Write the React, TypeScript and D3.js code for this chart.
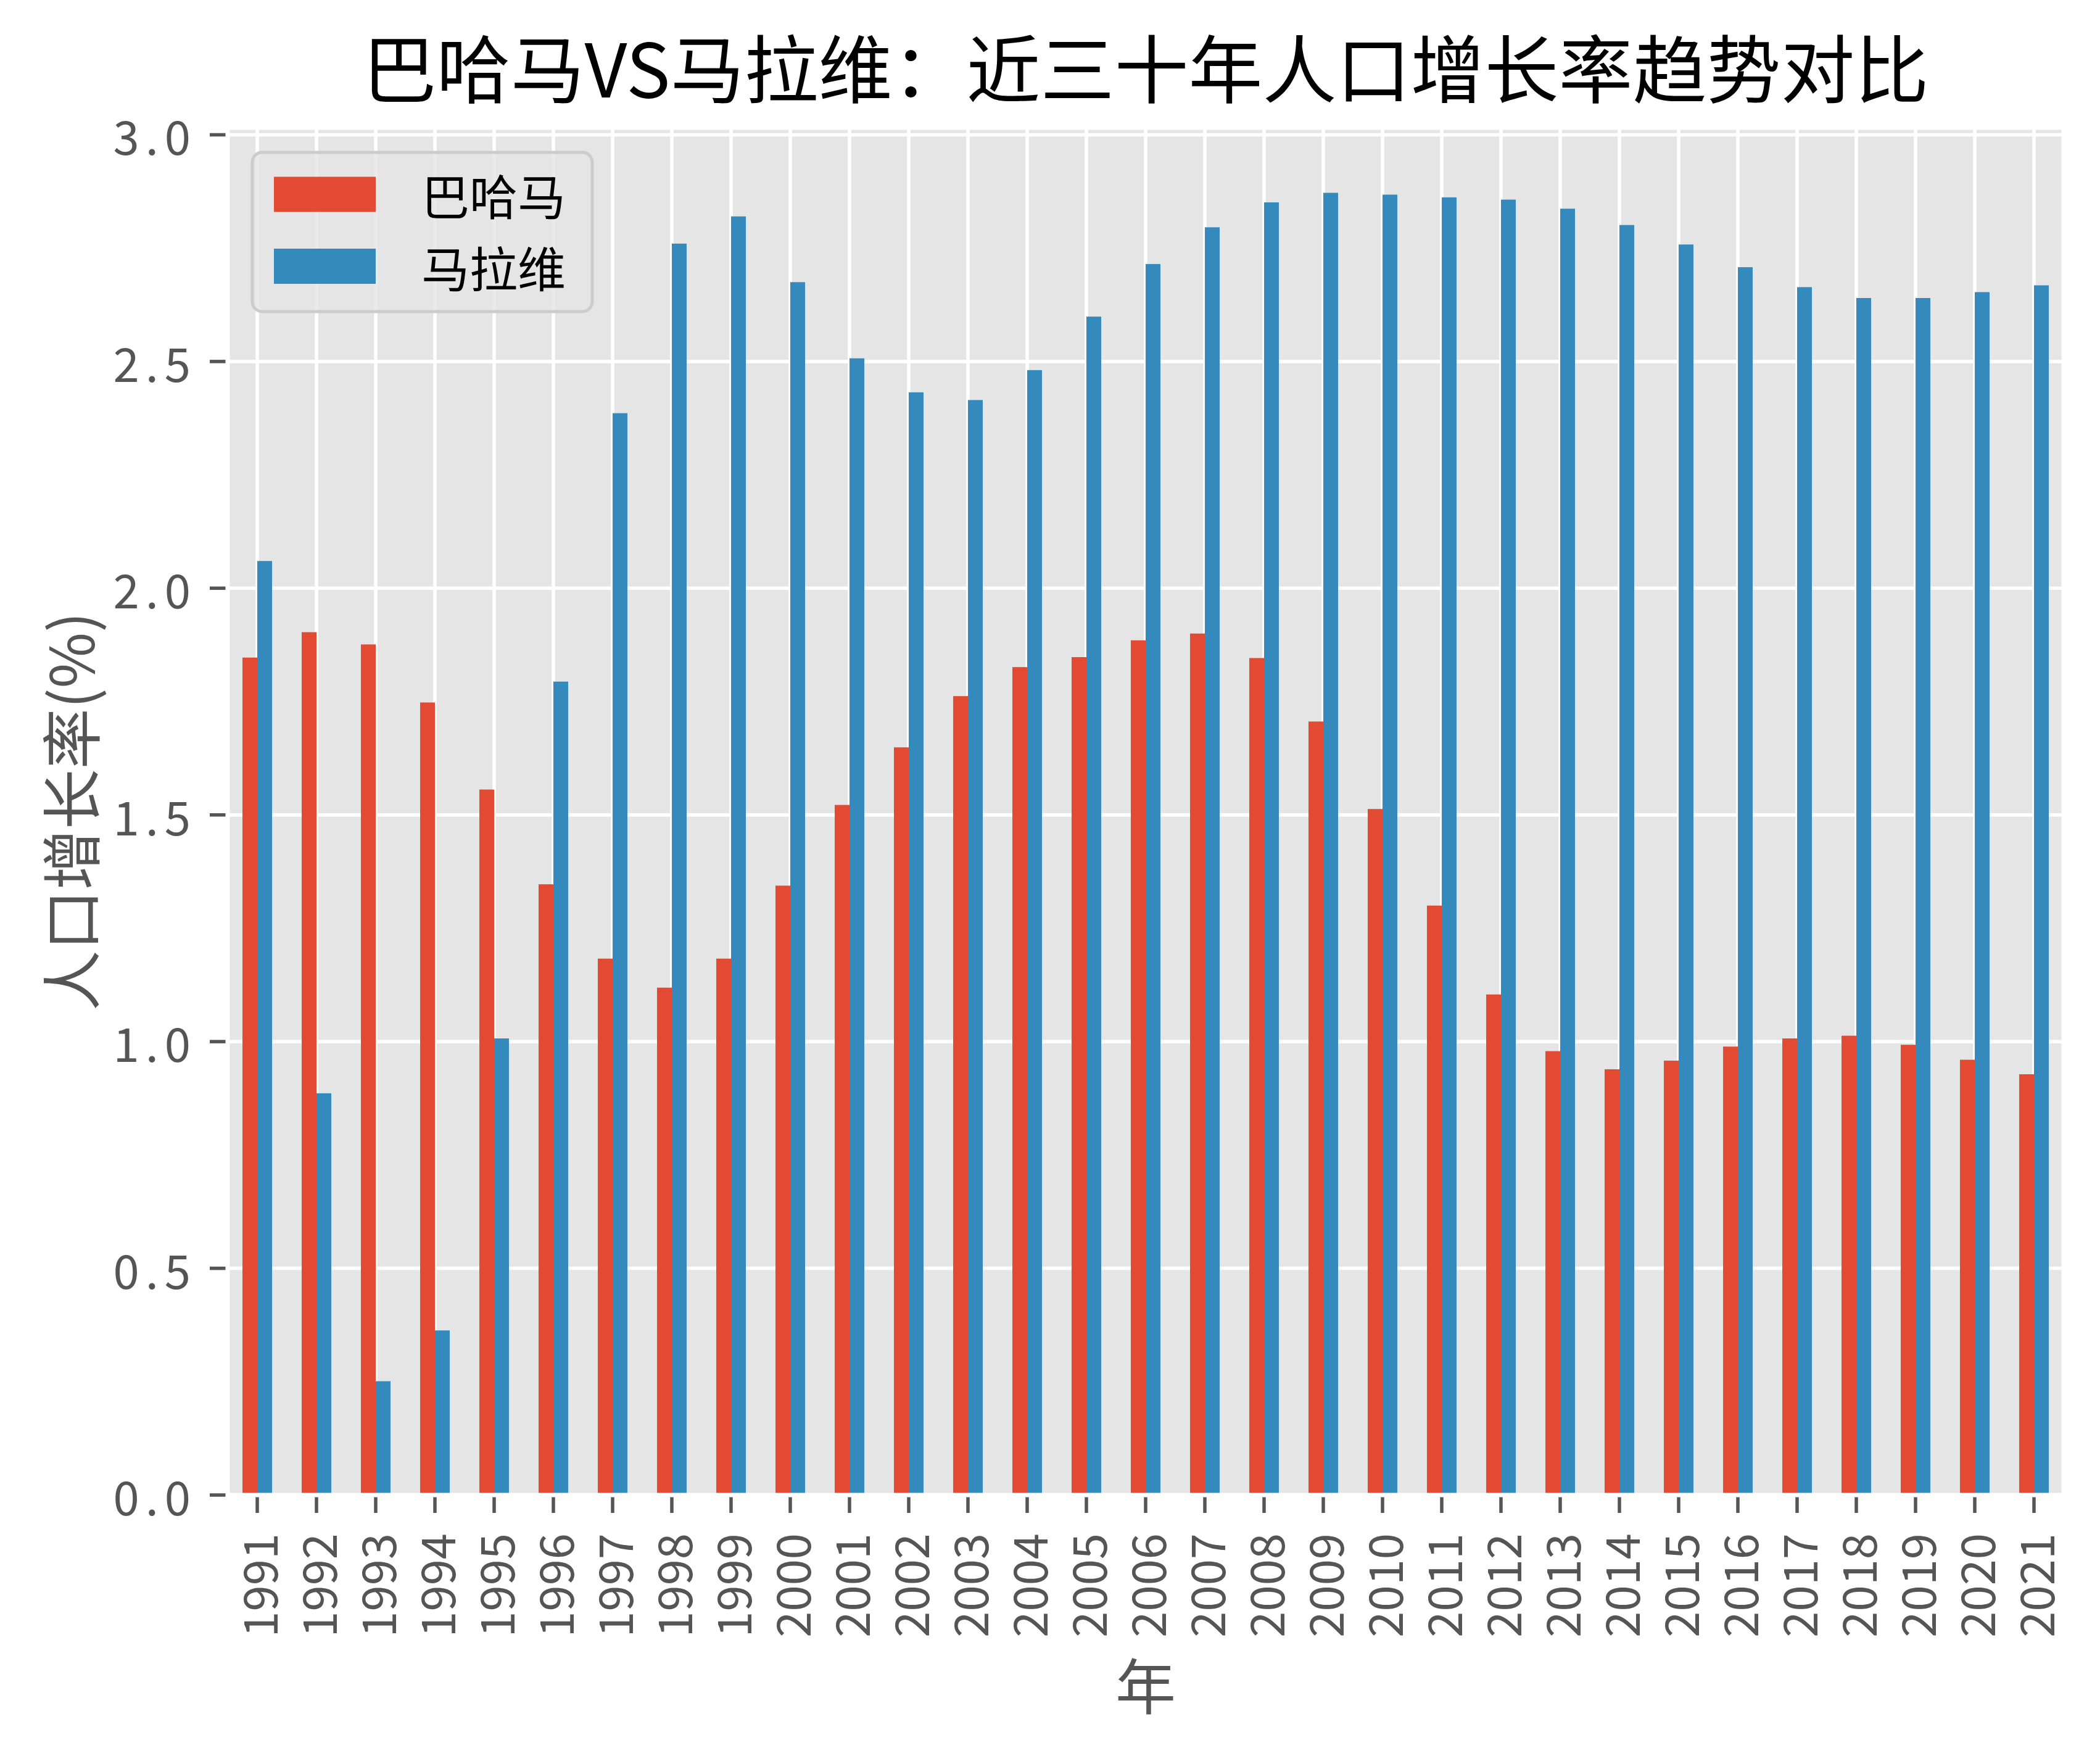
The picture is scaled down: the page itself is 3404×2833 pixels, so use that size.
import React from "react";
import * as d3 from "d3";

const years = ["1991","1992","1993","1994","1995","1996","1997","1998","1999","2000","2001","2002","2003","2004","2005","2006","2007","2008","2009","2010","2011","2012","2013","2014","2015","2016","2017","2018","2019","2020","2021"];
const bahamas = [1.847, 1.903, 1.876, 1.748, 1.556, 1.347, 1.183, 1.119, 1.183, 1.344, 1.522, 1.649, 1.762, 1.826, 1.848, 1.885, 1.900, 1.846, 1.706, 1.513, 1.300, 1.104, 0.979, 0.939, 0.958, 0.989, 1.007, 1.013, 0.993, 0.960, 0.928];
const malawi = [2.060, 0.886, 0.251, 0.363, 1.007, 1.794, 2.386, 2.760, 2.820, 2.675, 2.507, 2.432, 2.415, 2.481, 2.599, 2.715, 2.796, 2.851, 2.872, 2.868, 2.862, 2.857, 2.837, 2.801, 2.758, 2.708, 2.664, 2.640, 2.640, 2.653, 2.668];
const seriesNames = ["巴哈马", "马拉维"];
const yTicks = [0, 0.5, 1.0, 1.5, 2.0, 2.5, 3.0];
const title = "巴哈马VS马拉维：近三十年人口增长率趋势对比";
const xLabel = "年";
const yLabel = "人口增长率(%)";

const W = 3404, H = 2833;
const L = 369, R = 3345, T = 207, B = 2423;
const RED = "#E24A33", BLUE = "#348ABD";
const FONT = "'Noto Sans CJK SC', 'Noto Sans', sans-serif";
const TICKC = "#555555";

export default function App() {
  const x = d3.scaleLinear().domain([-0.5, years.length - 0.5]).range([L, R]);
  const y = d3.scaleLinear().domain([0, 3.0156]).range([B, T]);
  const bw = 0.25;
  return (
    <svg width={W} height={H} style={{ position: "absolute", left: 0, top: 0, background: "#fff" }} fontFamily={FONT}>
      <rect x={0} y={0} width={W} height={H} fill="#fff" />
      <rect x={L} y={T} width={R - L} height={B - T} fill="#E5E5E5" />
      {yTicks.map((t) => (
        <line key={"gy" + t} x1={L} x2={R} y1={y(t)} y2={y(t)} stroke="#fff" strokeWidth={5.5} />
      ))}
      {years.map((yr, i) => (
        <line key={"gx" + yr} x1={x(i)} x2={x(i)} y1={T} y2={B} stroke="#fff" strokeWidth={5.5} />
      ))}
      {bahamas.map((v, i) => (
        <rect key={"r" + i} x={x(i - bw)} y={y(v)} width={x(i) - x(i - bw)} height={y(0) - y(v)} fill={RED} />
      ))}
      {malawi.map((v, i) => (
        <rect key={"b" + i} x={x(i)} y={y(v)} width={x(i + bw) - x(i)} height={y(0) - y(v)} fill={BLUE} />
      ))}
      <rect x={L} y={T} width={R - L} height={B - T} fill="none" stroke="#fff" strokeWidth={7} />
      {yTicks.map((t) => (
        <g key={"yt" + t}>
          <line x1={L - 29} x2={L - 3.5} y1={y(t)} y2={y(t)} stroke={TICKC} strokeWidth={5.5} />
          <text x={L - 50} y={y(t)} textAnchor="end" dominantBaseline="central" fontSize={76} letterSpacing={10} fill={TICKC}>
            {t.toFixed(1)}
          </text>
        </g>
      ))}
      {years.map((yr, i) => (
        <g key={"xt" + yr}>
          <line x1={x(i)} x2={x(i)} y1={B + 3.5} y2={B + 29} stroke={TICKC} strokeWidth={5.5} />
          <text
            transform={`translate(${x(i)},${B + 62}) rotate(-90)`}
            textAnchor="end"
            dominantBaseline="central"
            fontSize={76}
            fill={TICKC}
          >
            {yr}
          </text>
        </g>
      ))}
      <text x={(L + R) / 2} y={158} textAnchor="middle" fontSize={120} fill="#000">
        {title}
      </text>
      <text x={(L + R) / 2} y={2727} textAnchor="middle" dominantBaseline="central" fontSize={98} fill={TICKC}>
        {xLabel}
      </text>
      <text
        transform={`translate(110,${(T + B) / 2}) rotate(-90)`}
        textAnchor="middle"
        dominantBaseline="central"
        fontSize={98}
        fill={TICKC}
      >
        {yLabel}
      </text>
      <g>
        <rect x={409} y={247} width={551} height={258} rx={16} ry={16} fill="#E5E5E5" fillOpacity={0.8} stroke="#CCCCCC" strokeWidth={5} />
        {seriesNames.map((name, k) => {
          const cy = k === 0 ? 315 : 431.5;
          return (
            <g key={name}>
              <rect x={444} y={cy - 28.5} width={165} height={57} fill={k === 0 ? RED : BLUE} />
              <text x={683} y={cy} dominantBaseline="central" fontSize={78} fill="#000">
                {name}
              </text>
            </g>
          );
        })}
      </g>
    </svg>
  );
}
